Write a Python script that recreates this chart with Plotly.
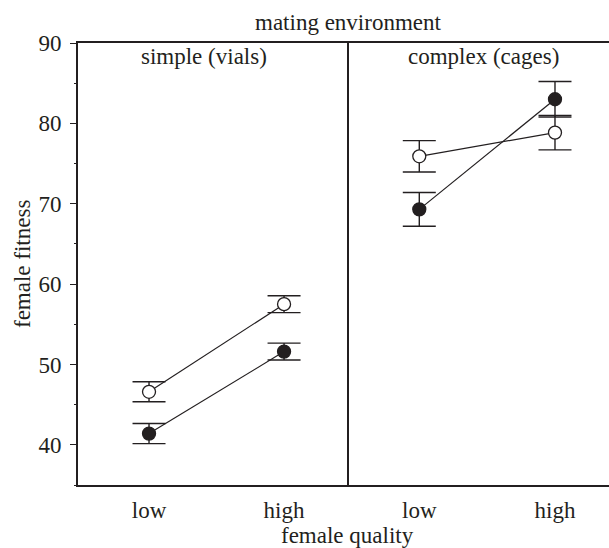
import plotly.graph_objects as go

quality = ["low", "high"]
environments = ["simple (vials)", "complex (cages)"]

# open-circle series
open_simple = [46.6, 57.5]
open_simple_err = [1.25, 1.05]
open_complex = [75.9, 78.85]
open_complex_err = [1.95, 2.15]

# filled-circle series
filled_simple = [41.4, 51.6]
filled_simple_err = [1.25, 1.05]
filled_complex = [69.3, 83.0]
filled_complex_err = [2.1, 2.2]

yticks = [40, 50, 60, 70, 80, 90]

INK = "#231f20"
FONT = "Liberation Serif"
FS = 23

fig = go.Figure()

def add(xaxis, yaxis, y, err, fill):
    fig.add_trace(go.Scatter(
        x=quality, y=y, xaxis=xaxis, yaxis=yaxis,
        mode="lines+markers",
        line=dict(color=INK, width=1.2),
        marker=dict(size=13, color=fill, line=dict(color=INK, width=1.3)),
        error_y=dict(type="data", array=err, visible=True, color=INK,
                     thickness=1.4, width=16.5),
        showlegend=False, hoverinfo="skip",
    ))

add("x", "y", filled_simple, filled_simple_err, INK)
add("x", "y", open_simple, open_simple_err, "white")
add("x2", "y2", filled_complex, filled_complex_err, INK)
add("x2", "y2", open_complex, open_complex_err, "white")

L, R, T, B = 78, 0, 42.5, 62.5
W, H = 609, 548
split = (349 - L) / (W - L - R)

axis_common = dict(showgrid=False, zeroline=False, showline=True,
                   linecolor=INK, linewidth=1.6, type="category",
                   ticks="", tickfont=dict(family=FONT, size=FS, color=INK),
                   mirror=True, automargin=False, ticklabelstandoff=4)

fig.update_layout(
    width=W, height=H,
    margin=dict(l=L, r=R, t=T, b=B, pad=0, autoexpand=False),
    plot_bgcolor="white", paper_bgcolor="white",
    xaxis=dict(domain=[0, split], range=[-0.526, 1.481], anchor="y", **axis_common),
    xaxis2=dict(domain=[split, 1], range=[-0.518, 1.398], anchor="y2", **axis_common),
    yaxis=dict(range=[35, 90], tickvals=yticks, ticks="outside", ticklen=6,
               tickwidth=1.4, tickcolor=INK, showgrid=False, zeroline=False,
               showline=True, linecolor=INK, linewidth=1.6, anchor="x",
               automargin=False, ticklabelstandoff=4,
               tickfont=dict(family=FONT, size=FS, color=INK),
               minor=dict(dtick=5, ticks="outside", ticklen=2, tickwidth=1.2,
                          tickcolor=INK, showgrid=False)),
    yaxis2=dict(range=[35, 90], matches="y", showticklabels=False, ticks="",
                showgrid=False, zeroline=False, showline=True, linecolor=INK,
                linewidth=1.6, anchor="x2", automargin=False),
)

# convert pixel positions to paper coords relative to the plot area
def px(xpix, ypix):
    return ((xpix - L) / (W - L - R), 1 - (ypix - T) / (H - T - B))

for text, xp, yp in [("mating environment", 348, 22),
                     (environments[0], 204, 56),
                     (environments[1], 483, 56),
                     ("female quality", 347, 536)]:
    xx, yy = px(xp, yp)
    fig.add_annotation(text=text, x=xx, y=yy, xref="paper", yref="paper",
                       showarrow=False, xanchor="center", yanchor="middle",
                       font=dict(family=FONT, size=FS, color=INK))

xx, yy = px(22, 264)
fig.add_annotation(text="female fitness", x=xx, y=yy, xref="paper", yref="paper",
                   showarrow=False, textangle=-90, xanchor="center", yanchor="middle",
                   font=dict(family=FONT, size=FS, color=INK))

fig.write_html("out.html", config={"displayModeBar": False},
               post_script="document.body.style.margin='0';document.body.style.padding='0';")
